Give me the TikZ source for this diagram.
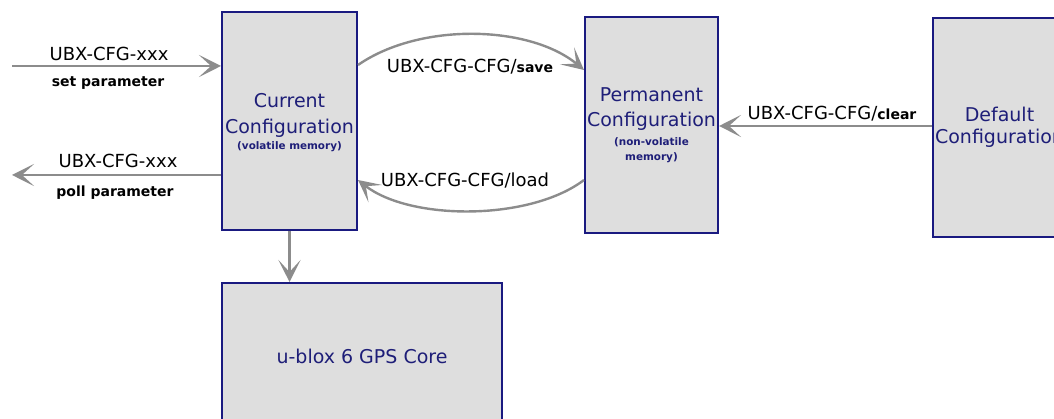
\documentclass[tikz,border=0pt]{standalone}
\usepackage{fontspec}
\setmainfont{DejaVu Sans}
\usetikzlibrary{arrows.meta}
\definecolor{boxfill}{HTML}{DEDEDE}
\definecolor{boxline}{HTML}{1A1A80}
\definecolor{boxtxt}{HTML}{1E1E78}
\definecolor{arrgray}{HTML}{8C8C8C}
\tikzset{
  cfgbox/.style={draw=boxline, fill=boxfill, line width=2pt, inner sep=0pt},
  bigtxt/.style={text=boxtxt, font=\fontsize{19}{22}\selectfont, anchor=base, inner sep=0pt},
  smalltxt/.style={text=boxtxt, font=\fontsize{10.4}{12}\selectfont\bfseries, anchor=base, inner sep=0pt},
  lbl/.style={text=black, font=\fontsize{18}{21}\selectfont, anchor=base, inner sep=0pt},
  sublbl/.style={text=black, font=\fontsize{14}{16}\selectfont\bfseries, anchor=base, inner sep=0pt},
  conn/.style={draw=arrgray, line width=2.4pt, -{Stealth[length=22pt,width=22pt,inset=12pt]}}
}
\newcommand{\sm}[1]{{\fontsize{14}{16}\selectfont\bfseries #1}}
\begin{document}
\begin{tikzpicture}[x=1pt,y=-1pt]
\useasboundingbox (0,0) rectangle (1054,419);
% boxes
\node[cfgbox, minimum width=135pt, minimum height=218pt] (cur) at (289.5,121) {};
\node[cfgbox, minimum width=133pt, minimum height=216pt] (perm) at (651.5,125) {};
\node[cfgbox, minimum width=133pt, minimum height=219pt] (def) at (999.5,127.5) {};
\node[cfgbox, minimum width=280pt, minimum height=150pt] (core) at (362,358) {};
% box texts
\node[bigtxt] (curA) at (289.5,108) {Current};
\node[bigtxt] (curB) at (289.5,134) {Configuration};
\node[smalltxt] (curC) at (289.5,150) {(volatile memory)};
\node[bigtxt] (permA) at (651.5,102) {Permanent};
\node[bigtxt] (permB) at (651.5,127) {Configuration};
\node[smalltxt] (permC) at (651.5,146) {(non-volatile};
\node[smalltxt] (permD) at (651.5,161) {memory)};
\node[bigtxt] (defA) at (999.5,122) {Default};
\node[bigtxt] (defB) at (999.5,144) {Configuration};
\node[bigtxt] (coreT) at (362,363) {u-blox 6 GPS Core};
% free ends
\coordinate (inL) at (12,66);
\coordinate (outL) at (12,175);
% connectors
\draw[conn] (inL) -- (inL -| cur.west);
\draw[conn] (outL -| cur.west) -- (outL);
\draw[conn] (cur.south) -- (cur.south |- core.north);
\draw[conn] (def.west |- 0,126) -- (perm.east |- 0,126);
\draw[conn] (cur.east |- 0,65) .. controls (420,22) and (530,25) .. (perm.west |- 0,70);
\draw[conn] (perm.west |- 0,180) .. controls (530,221) and (410,221) .. (cur.east |- 0,180);
% labels
\node[lbl] (l1) at (109,61) {UBX-CFG-xxx};
\node[sublbl] (l2) at (108,87) {set parameter};
\node[lbl] (l3) at (118,168) {UBX-CFG-xxx};
\node[sublbl] (l4) at (115,197) {poll parameter};
\node[lbl, fill=white, inner xsep=2pt] (l5) at (470,73) {UBX-CFG-CFG/\sm{save}};
\node[lbl] (l6) at (465,187) {UBX-CFG-CFG/load};
\node[lbl] (l7) at (832,120) {UBX-CFG-CFG/\sm{clear}};
\end{tikzpicture}
\end{document}
